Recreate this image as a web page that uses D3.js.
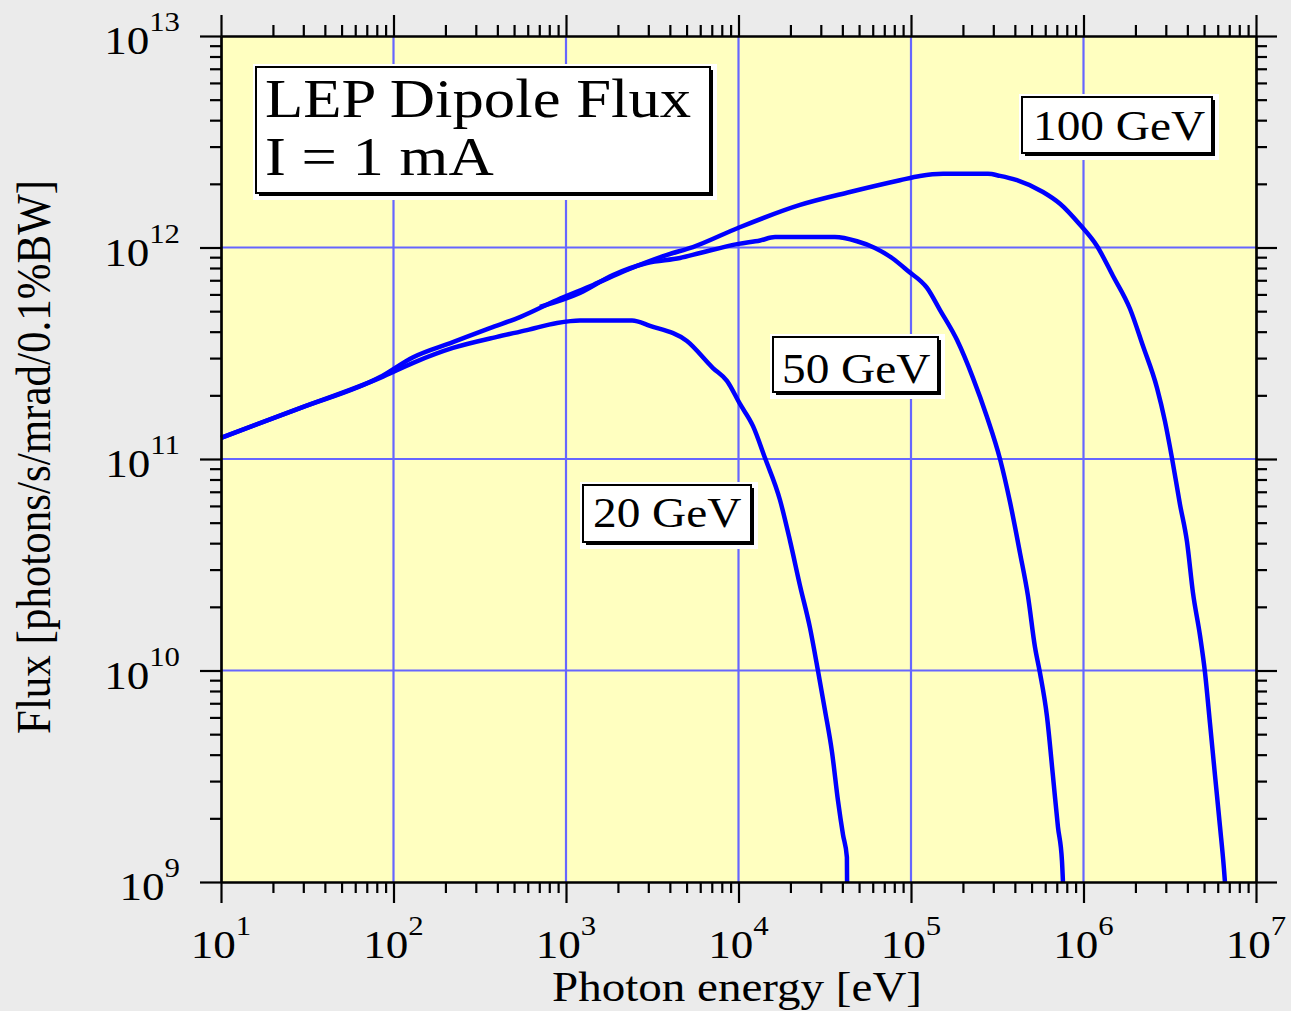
<!DOCTYPE html>
<html>
<head>
<meta charset="utf-8">
<script src="https://cdn.jsdelivr.net/npm/d3@7"></script>
<style>
  body { margin: 0; background: #ebebeb; }
  svg { display: block; }
  text { font-family: "Liberation Serif", "Times New Roman", serif; fill: #000; }
</style>
</head>
<body>
<svg id="chart" width="1291" height="1011"></svg>
<script>
// ---- data ----
const X_TICKS = [1e1, 1e2, 1e3, 1e4, 1e5, 1e6, 1e7];
const Y_TICKS = [1e9, 1e10, 1e11, 1e12, 1e13];

const SERIES_NAMES = ["20 GeV", "50 GeV", "100 GeV"];

// photon energy [eV] / flux, 20 GeV beam
const energy20 = [10, 28.7, 83.6, 130, 221, 398, 594, 887, 1205, 2415, 3069, 5024, 7112, 8570, 10200,
  12140, 14250, 17400, 19910, 22750, 25970, 28900, 31700, 34830, 37740, 40360, 42500, 42600];
const flux20 = [1.26e11, 1.74e11, 2.42e11, 2.85e11, 3.35e11, 3.78e11, 4.07e11, 4.40e11, 4.52e11, 4.52e11, 4.26e11,
  3.61e11, 2.69e11, 2.34e11, 1.82e11, 1.43e11, 1.01e11, 6.40e10, 4.09e10, 2.51e10, 1.59e10,
  9.95e9, 6.50e9, 4.12e9, 2.42e9, 1.67e9, 1.31e9, 1.0e9];

// 50 GeV beam
const energy50 = [706, 1205, 1871, 2951, 4581, 5984, 10000, 13340, 16290, 36220,
  48640, 61800, 77600, 96100, 123900, 147300, 184900, 228600, 275800, 328100,
  374900, 428500, 476500, 523300, 559500, 613700, 665200, 711100, 750200, 760300];
const flux50 = [5.24e11, 6.10e11, 7.41e11, 8.45e11, 8.92e11, 9.42e11, 1.04e12, 1.08e12, 1.12e12, 1.12e12,
  1.07e12, 9.95e11, 8.92e11, 7.74e11, 6.44e11, 5.06e11, 3.65e11, 2.42e11, 1.58e11, 1.0e11,
  6.26e10, 3.59e10, 2.25e10, 1.29e10, 9.73e9, 6.09e9, 3.17e9, 1.82e9, 1.26e9, 1.0e9];

// 100 GeV beam
const energy100 = [10, 28.7, 83.6, 130, 221, 362, 541, 887, 1435, 2259, 3855,
  5445, 10000, 22750, 44260, 86300, 112700, 153500, 279300, 328100, 411100,
  582100, 731100, 955000, 1.197e6, 1.483e6, 1.862e6, 2.213e6, 2.667e6, 2.965e6, 3.258e6,
  3.622e6, 3.981e6, 4.315e6, 4.732e6, 5.058e6, 5.408e6, 5.781e6, 6.180e6, 6.516e6, 6.607e6];
const flux100 = [1.26e11, 1.74e11, 2.44e11, 3.03e11, 3.57e11, 4.16e11, 4.69e11, 5.65e11, 6.65e11, 7.83e11, 9.23e11,
  1.005e12, 1.24e12, 1.59e12, 1.83e12, 2.08e12, 2.18e12, 2.23e12, 2.23e12, 2.18e12, 2.08e12,
  1.83e12, 1.61e12, 1.28e12, 1.016e12, 7.33e11, 5.12e11, 3.42e11, 2.17e11, 1.51e11, 1.01e11,
  6.12e10, 4.06e10, 2.32e10, 1.47e10, 9.84e9, 5.65e9, 3.21e9, 1.84e9, 1.16e9, 1.0e9];

const TITLE_LINES = ["LEP Dipole Flux", "I = 1 mA"];
const X_TITLE = "Photon energy [eV]";
const Y_TITLE = "Flux [photons/s/mrad/0.1%BW]";

// ---- layout ----
const W = 1291, H = 1011;
const P = { left: 221, right: 1256, top: 36, bottom: 882 };
const SX = 1.1;   // text in the original is a bit wide

const svg = d3.select('#chart');

const x = d3.scaleLog().domain([X_TICKS[0], X_TICKS[X_TICKS.length - 1]]).range([P.left, P.right]);
const y = d3.scaleLog().domain([Y_TICKS[0], Y_TICKS[Y_TICKS.length - 1]]).range([P.bottom, P.top]);

svg.append('rect').attr('width', W).attr('height', H).attr('fill', '#ebebeb');
svg.append('rect')
  .attr('x', P.left).attr('y', P.top)
  .attr('width', P.right - P.left).attr('height', P.bottom - P.top)
  .attr('fill', '#ffffc0');

// grid at the decades
const grid = svg.append('g').attr('stroke', '#6666ff').attr('stroke-width', 2.2);
grid.selectAll('line.v').data(X_TICKS.slice(1, -1)).join('line')
  .attr('class', 'v')
  .attr('x1', d => x(d)).attr('x2', d => x(d))
  .attr('y1', P.top).attr('y2', P.bottom);
grid.selectAll('line.h').data(Y_TICKS.slice(1, -1)).join('line')
  .attr('class', 'h')
  .attr('y1', d => y(d)).attr('y2', d => y(d))
  .attr('x1', P.left).attr('x2', P.right);

// curves
const line = d3.line().x(d => x(d[0])).y(d => y(d[1])).curve(d3.curveMonotoneX);
const series = [
  d3.zip(energy20, flux20),
  d3.zip(energy50, flux50),
  d3.zip(energy100, flux100)
];
svg.append('g').selectAll('path').data(series).join('path')
  .attr('d', line)
  .attr('fill', 'none')
  .attr('stroke', '#0000ff')
  .attr('stroke-width', 4.5)
  .attr('stroke-linejoin', 'round');

// label boxes (white halo, black drop shadow, framed box)
function labelBox(b) {
  const g = svg.append('g');
  g.append('rect').attr('x', b.x - 3).attr('y', b.y - 3)
    .attr('width', b.w + 10).attr('height', b.h + 10).attr('fill', '#fff');
  g.append('rect').attr('x', b.x + 3).attr('y', b.y + 3)
    .attr('width', b.w).attr('height', b.h).attr('fill', '#000');
  g.append('rect').attr('x', b.x).attr('y', b.y)
    .attr('width', b.w).attr('height', b.h)
    .attr('fill', '#fff').attr('stroke', '#000').attr('stroke-width', 2);
  b.lines.forEach((t, i) => {
    g.append('text')
      .attr('transform', `translate(${b.x + b.pad},${b.y + b.base + i * b.lh}) scale(${b.sx},1)`)
      .style('font-size', b.fs + 'px')
      .text(t);
  });
}

labelBox({ x: 256, y: 67, w: 454, h: 126, pad: 9, base: 50, lh: 58, fs: 56, sx: 1.12, lines: TITLE_LINES });
labelBox({ x: 583, y: 485, w: 168, h: 57, pad: 10, base: 42, lh: 0, fs: 43, sx: SX, lines: [SERIES_NAMES[0]] });
labelBox({ x: 773, y: 337, w: 165, h: 55, pad: 9, base: 46, lh: 0, fs: 43, sx: SX, lines: [SERIES_NAMES[1]] });
labelBox({ x: 1022, y: 97, w: 190, h: 56, pad: 11, base: 43, lh: 0, fs: 43, sx: SX, lines: [SERIES_NAMES[2]] });

// axes: major + minor ticks on all four sides
function minorOf(ticks) {
  const out = [];
  ticks.slice(0, -1).forEach(t => { for (let k = 2; k < 10; k++) out.push(t * k); });
  return out;
}
function axisPair(make, scale, ticks, transform) {
  [[minorOf(ticks), 11], [ticks, 21]].forEach(([vals, size]) => {
    const g = svg.append('g').attr('transform', transform)
      .call(make(scale).tickValues(vals).tickSize(size).tickSizeOuter(0).tickFormat(''));
    g.selectAll('path, line').attr('stroke', '#000').attr('stroke-width', 2.2);
    g.selectAll('text').remove();
  });
}
axisPair(d3.axisBottom, x, X_TICKS, `translate(0,${P.bottom})`);
axisPair(d3.axisTop, x, X_TICKS, `translate(0,${P.top})`);
axisPair(d3.axisLeft, y, Y_TICKS, `translate(${P.left},0)`);
axisPair(d3.axisRight, y, Y_TICKS, `translate(${P.right},0)`);

// tick labels 10^n
function powLabel(sel) {
  sel.append('tspan').style('font-size', '41px').text('10');
  sel.append('tspan').style('font-size', '28px').attr('dy', -23)
    .text(d => Math.round(Math.log10(d)));
}
svg.append('g').selectAll('text').data(X_TICKS).join('text')
  .attr('transform', d => `translate(${x(d)},958) scale(${SX},1)`)
  .attr('text-anchor', 'middle')
  .call(powLabel);
svg.append('g').selectAll('text').data(Y_TICKS).join('text')
  .attr('transform', d => `translate(180,${y(d) + 18}) scale(${SX},1)`)
  .attr('text-anchor', 'end')
  .call(powLabel);

// axis titles
svg.append('text')
  .attr('transform', `translate(737,1001) scale(1.12,1)`)
  .attr('text-anchor', 'middle')
  .style('font-size', '42px')
  .text(X_TITLE);
svg.append('text')
  .attr('transform', `translate(50,457) scale(1.12,1) rotate(-90)`)
  .attr('text-anchor', 'middle')
  .style('font-size', '43px')
  .text(Y_TITLE);
</script>
</body>
</html>
